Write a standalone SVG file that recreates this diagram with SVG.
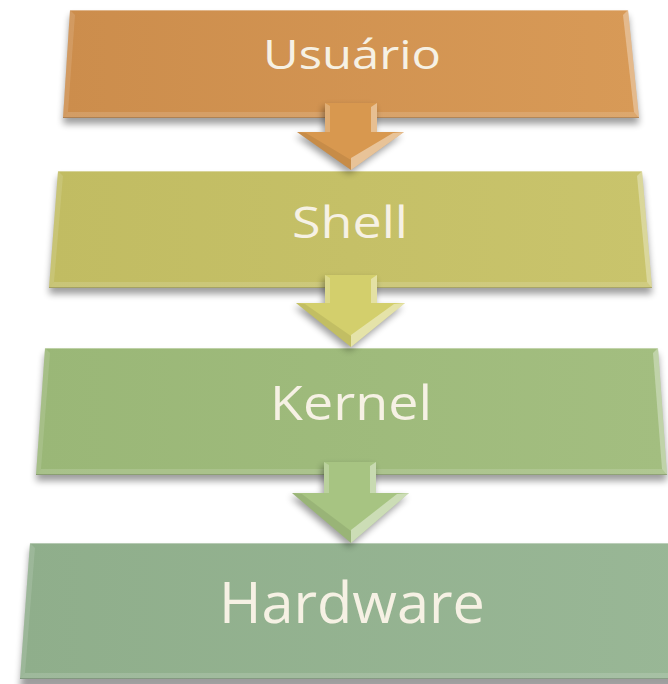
<svg xmlns="http://www.w3.org/2000/svg" width="668" height="684" viewBox="0 0 668 684">
  <style>
    .label { font-family: "Open Sans", "Noto Sans", "Liberation Sans", sans-serif; fill: #F6F1E4; text-anchor: middle; }
    .shadow { fill: #000; opacity: 0.38; filter: url(#soft); }
    .bevel-l { fill: #fff; opacity: 0.12; }
    .bevel-r { fill: #fff; opacity: 0.32; }
    .bevel-b { fill: #fff; opacity: 0.14; }
    .edge-b { fill: none; stroke: #000; stroke-opacity: 0.18; stroke-width: 1.2; }
    .edge-t { fill: none; stroke: #fff; stroke-opacity: 0.35; stroke-width: 1.2; }
    .shaft-l { fill: #fff; opacity: 0.22; }
    .shaft-r { fill: #fff; opacity: 0.38; }
    .facet { fill: #fff; opacity: 0.42; }
    .head-dark { fill: #000; opacity: 0.08; }
  </style>
  <defs>
    <filter id="soft" x="-20%" y="-40%" width="140%" height="180%">
      <feGaussianBlur stdDeviation="3.5"/>
    </filter>
    <linearGradient id="gOrange" x1="0" y1="0" x2="1" y2="0">
      <stop offset="0" stop-color="#CC8D4C"/>
      <stop offset="1" stop-color="#D89A57"/>
    </linearGradient>
    <linearGradient id="gYellow" x1="0" y1="0" x2="1" y2="0">
      <stop offset="0" stop-color="#C1BC62"/>
      <stop offset="1" stop-color="#C9C46C"/>
    </linearGradient>
    <linearGradient id="gGreen" x1="0" y1="0" x2="1" y2="0">
      <stop offset="0" stop-color="#9AB777"/>
      <stop offset="1" stop-color="#A3BE80"/>
    </linearGradient>
    <linearGradient id="gSage" x1="0" y1="0" x2="1" y2="0">
      <stop offset="0" stop-color="#8FAE8B"/>
      <stop offset="1" stop-color="#99B796"/>
    </linearGradient>
  </defs>

  <!-- layer 1: user -->
  <g id="node-usuario">
    <polygon class="shadow" points="70,16 628,16 639,124 63,124"/>
    <polygon fill="url(#gOrange)" points="70,10 628,10 639,118 63,118"/>
    <polygon class="bevel-l" points="70,10 75,15 68,112 63,118"/>
    <polygon class="bevel-r" points="628,10 639,118 634,112 623,15"/>
    <polygon class="bevel-b" points="63,118 639,118 634,112 68,112"/>
    <polyline class="edge-t" points="70,10.5 628,10.5"/>
    <polyline class="edge-b" points="63,117.5 639,117.5"/>
    <text class="label" x="352" y="69" font-size="40" textLength="178" lengthAdjust="spacingAndGlyphs">Usuário</text>
  </g>

  <!-- layer 2: shell -->
  <g id="node-shell">
    <polygon class="shadow" points="58,177 642,177 652,294 49,294"/>
    <polygon fill="url(#gYellow)" points="58,171 642,171 652,288 49,288"/>
    <polygon class="bevel-l" points="58,171 63,176 54,282 49,288"/>
    <polygon class="bevel-r" points="642,171 652,288 647,282 637,176"/>
    <polygon class="bevel-b" points="49,288 652,288 647,282 54,282"/>
    <polyline class="edge-t" points="58,171.5 642,171.5"/>
    <polyline class="edge-b" points="49,287.5 652,287.5"/>
    <text class="label" x="350" y="238" font-size="44" textLength="116" lengthAdjust="spacingAndGlyphs">Shell</text>
  </g>

  <!-- layer 3: kernel -->
  <g id="node-kernel">
    <polygon class="shadow" points="45,354 658,354 667,481 36,481"/>
    <polygon fill="url(#gGreen)" points="45,348 658,348 667,475 36,475"/>
    <polygon class="bevel-l" points="45,348 50,353 41,469 36,475"/>
    <polygon class="bevel-r" points="658,348 667,475 662,469 653,353"/>
    <polygon class="bevel-b" points="36,475 667,475 662,469 41,469"/>
    <polyline class="edge-t" points="45,348.5 658,348.5"/>
    <polyline class="edge-b" points="36,474.5 667,474.5"/>
    <text class="label" x="351" y="420" font-size="48" textLength="162" lengthAdjust="spacingAndGlyphs">Kernel</text>
  </g>

  <!-- layer 4: hardware -->
  <g id="node-hardware">
    <polygon class="shadow" points="30,549 680,549 690,690 20,690"/>
    <polygon fill="url(#gSage)" points="30,543 680,543 690,679 20,679"/>
    <polygon class="bevel-l" points="30,543 35,548 25,673 20,679"/>
    <polygon class="bevel-b" points="20,679 690,679 685,673 25,673"/>
    <polyline class="edge-t" points="30,543.5 680,543.5"/>
    <polyline class="edge-b" points="20,678.5 690,678.5"/>
    <text class="label" x="352" y="623" font-size="56" textLength="266" lengthAdjust="spacingAndGlyphs">Hardware</text>
  </g>

  <!-- downward arrows between layers -->
  <g id="connectors">
    <g id="arrow-usuario-shell">
      <polygon class="shadow" points="323,107 375,107 375,136 402,136 349,174 295,136 323,136"/>
      <polygon fill="#D8984F" points="325,103 377,103 377,132 404,132 351,170 297,132 325,132"/>
      <polygon class="shaft-l" points="325,103 330,106 330,132 325,132"/>
      <polygon class="shaft-r" points="377,103 371,107 371,132 377,132"/>
      <polygon class="head-dark" points="297,132 351,170 351,160 306,133"/>
      <polygon class="facet" points="404,132 351,170 351,158 393,133"/>
    </g>
    <g id="arrow-shell-kernel">
      <polygon class="shadow" points="323,279 375,279 375,307 403,307 349,351 294,307 323,307"/>
      <polygon fill="#D3CF6C" points="325,275 377,275 377,303 405,303 351,347 296,303 325,303"/>
      <polygon class="shaft-l" points="325,275 330,278 330,303 325,303"/>
      <polygon class="shaft-r" points="377,275 371,279 371,303 377,303"/>
      <polygon class="head-dark" points="296,303 351,347 351,336 305,304"/>
      <polygon class="facet" points="405,303 351,347 351,335 394,304"/>
    </g>
    <g id="arrow-kernel-hardware">
      <polygon class="shadow" points="322,466 374,466 374,497 407,497 349,547 290,497 322,497"/>
      <polygon fill="#A7C482" points="324,462 376,462 376,493 409,493 351,543 292,493 324,493"/>
      <polygon class="shaft-l" points="324,462 329,465 329,493 324,493"/>
      <polygon class="shaft-r" points="376,462 370,466 370,493 376,493"/>
      <polygon class="head-dark" points="292,493 351,543 351,531 302,494"/>
      <polygon class="facet" points="409,493 351,543 351,530 397,494"/>
    </g>
  </g>
</svg>
